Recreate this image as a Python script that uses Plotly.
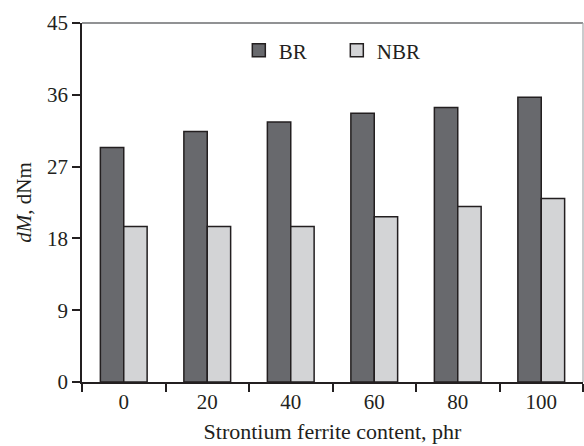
import plotly.graph_objects as go

categories = ["0", "20", "40", "60", "80", "100"]
br_values = [29.4, 31.4, 32.6, 33.7, 34.4, 35.7]
nbr_values = [19.5, 19.5, 19.5, 20.7, 22.0, 23.0]
y_ticks = [0, 9, 18, 27, 36, 45]

FONT = "Liberation Serif"
OUT = "#231f20"
BR_COLOR = "#68696d"
NBR_COLOR = "#d3d4d6"

fig = go.Figure()
fig.add_trace(go.Bar(x=categories, y=br_values, name="BR", showlegend=False,
                     marker=dict(color=BR_COLOR, line=dict(color=OUT, width=1.5))))
fig.add_trace(go.Bar(x=categories, y=nbr_values, name="NBR", showlegend=False,
                     marker=dict(color=NBR_COLOR, line=dict(color=OUT, width=1.5))))
# legend entries with square swatches
for name, col in [("BR", BR_COLOR), ("NBR", NBR_COLOR)]:
    fig.add_trace(go.Scatter(x=[None], y=[None], mode="markers", name=name,
                             marker=dict(symbol="square", size=13, color=col,
                                         line=dict(color=OUT, width=1.5))))

fig.update_layout(
    width=584, height=446,
    margin=dict(l=82, r=1, t=23, b=64),
    paper_bgcolor="white", plot_bgcolor="white",
    barmode="group", bargap=0.44, bargroupgap=0,
    font=dict(family=FONT, size=21, color="#231f20"),
    showlegend=True,
    legend=dict(orientation="h", x=0.313, y=0.98, xanchor="left", yanchor="top",
                font=dict(family=FONT, size=21), bgcolor="rgba(0,0,0,0)",
                itemwidth=30, tracegroupgap=0, entrywidth=53, entrywidthmode="pixels"),
)
fig.update_xaxes(
    type="category", showline=True, linecolor=OUT, linewidth=1.5,
    ticks="outside", tickson="boundaries", ticklen=8, tickcolor=OUT, tickwidth=1.5,
    showgrid=False, tickfont=dict(family=FONT, size=21),
    title=dict(text="Strontium ferrite content, phr", font=dict(family=FONT, size=22), standoff=11),
)
fig.update_yaxes(
    range=[0, 45], tickvals=y_ticks, showline=True, linecolor=OUT, linewidth=1.5,
    ticks="outside", ticklen=8, tickcolor=OUT, tickwidth=1.5,
    showgrid=False, zeroline=False, tickfont=dict(family=FONT, size=21),
    title=dict(text="<i>dM</i>, dNm", font=dict(family=FONT, size=21), standoff=10),
)
# frame top and right
fig.add_shape(type="line", xref="paper", yref="paper", x0=0, x1=1, y0=1, y1=1,
              line=dict(color="#6d6e71", width=1.5))
fig.add_shape(type="line", xref="paper", yref="paper", x0=1, x1=1, y0=0, y1=1,
              line=dict(color="#a7a9ac", width=1.2))

fig.write_html("out.html")
